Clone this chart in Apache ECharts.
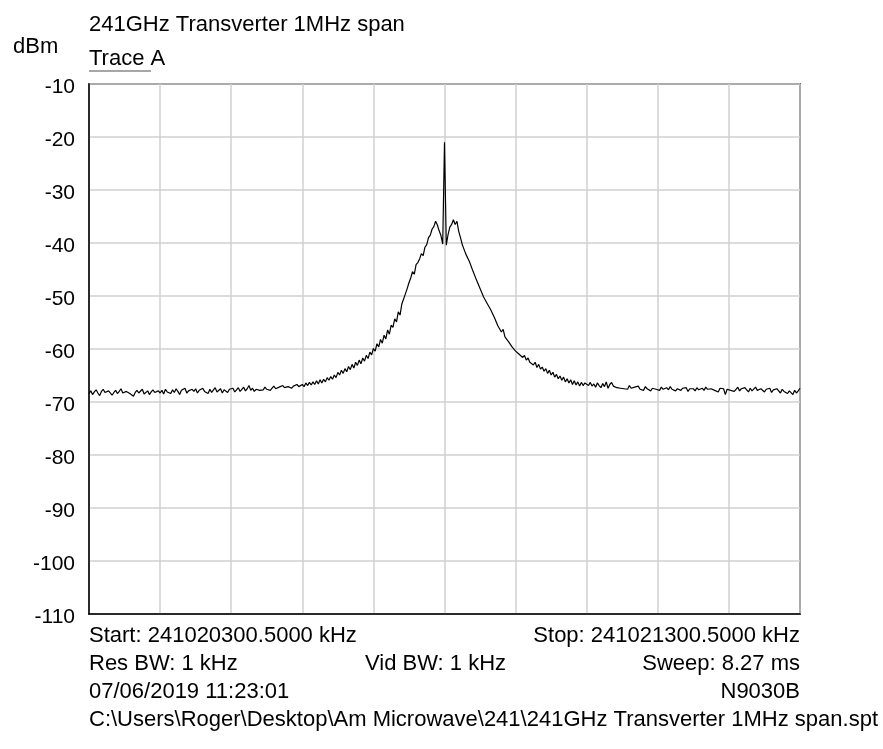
<!DOCTYPE html>
<html>
<head>
<meta charset="utf-8">
<script src="https://cdn.jsdelivr.net/npm/echarts@6/dist/echarts.min.js"></script>
<style>
html,body{margin:0;padding:0;background:#fff;}
#chart{width:883px;height:749px;}
</style>
</head>
<body>
<div id="chart"></div>
<script>
// Frequency offset from start (kHz), one sweep point every 2.5 kHz over a 1 MHz span
var sweepStepKHz = 2.5;
var spanKHz = 1000;
// Trace A level (dBm)
var traceA = [
-68.4,-67.9,-68.6,-68.1,-67.7,-68.3,-68.8,-68.0,-67.6,-68.2,-68.5,-67.9,-68.1,-68.7,-68.2,-67.8,-68.4,-68.0,-67.5,-68.3,
-68.6,-68.0,-67.7,-68.4,-68.1,-68.9,-68.2,-67.8,-68.3,-68.0,-67.6,-68.5,-68.2,-67.9,-68.6,-68.1,-67.7,-68.2,-68.4,-67.9,
-68.3,-67.8,-68.5,-67.6,-68.1,-67.9,-68.4,-67.7,-68.2,-67.5,-68.0,-68.6,-67.8,-68.1,-67.4,-68.3,-67.9,-68.2,-67.6,-68.0,
-67.5,-68.3,-67.8,-68.1,-67.4,-68.0,-67.7,-68.4,-67.6,-68.2,-67.9,-67.3,-68.1,-67.8,-67.5,-68.3,-67.7,-67.9,-68.2,-67.6,
-67.9,-67.4,-68.1,-67.7,-67.3,-68.0,-67.6,-67.2,-67.9,-67.5,-66.9,-67.8,-67.4,-68.0,-67.6,-67.3,-67.8,-67.5,-67.7,-67.2,
-67.6,-67.3,-67.8,-67.4,-67.0,-67.5,-67.7,-67.2,-67.4,-66.9,-67.3,-67.6,-67.1,-66.8,-67.4,-67.0,-67.2,-66.7,-67.1,-66.9,
-66.7,-67.1,-66.4,-66.9,-66.3,-66.8,-66.2,-66.7,-66.0,-66.6,-65.8,-66.4,-65.7,-66.2,-65.4,-65.9,-65.2,-65.7,-64.9,-65.4,
-64.4,-64.9,-64.0,-64.6,-63.7,-64.3,-63.3,-63.9,-62.9,-63.6,-62.5,-63.1,-62.1,-62.8,-61.7,-62.3,-61.2,-61.8,-60.6,-61.1,
-59.9,-60.4,-59.0,-59.6,-58.2,-58.9,-57.4,-58.1,-56.4,-57.2,-55.5,-55.9,-54.3,-54.9,-53.0,-53.6,-51.5,-51.2,-49.6,-48.6,
-47.5,-46.6,-45.4,-45.9,-44.1,-43.7,-43.0,-42.0,-42.4,-40.8,-40.3,-39.0,-38.5,-37.4,-36.9,-35.9,-36.6,-37.7,-38.6,-40.2,
-21.0,-40.4,-38.4,-37.0,-36.5,-35.6,-36.5,-35.9,-37.8,-39.0,-40.3,-40.6,-42.1,-42.2,-43.5,-43.6,-45.3,-45.2,-47.0,-47.1,
-48.6,-48.6,-50.2,-50.0,-51.4,-51.3,-52.6,-52.6,-54.0,-53.9,-55.6,-55.3,-56.8,-56.3,-57.7,-57.4,-58.6,-58.5,-59.6,-59.5,
-60.4,-60.1,-61.0,-60.7,-61.6,-61.2,-62.1,-61.7,-62.5,-62.2,-63.0,-62.5,-63.5,-62.9,-63.8,-63.4,-64.2,-63.7,-64.6,-64.0,
-64.9,-64.4,-65.3,-64.8,-65.6,-65.1,-65.9,-65.3,-66.2,-65.6,-66.4,-65.8,-66.7,-66.0,-66.8,-66.2,-67.0,-66.3,-66.9,-66.4,
-66.5,-66.9,-66.3,-67.0,-66.6,-67.2,-66.4,-66.9,-67.3,-66.5,-67.1,-66.2,-67.4,-66.7,-66.3,-67.0,-66.8,-67.3,-67.0,-67.4,
-67.1,-67.5,-67.2,-67.6,-66.9,-67.4,-67.7,-67.2,-67.5,-67.0,-67.6,-67.3,-67.8,-67.1,-67.5,-67.3,-67.9,-67.4,-67.2,-67.6,
-67.4,-67.8,-67.2,-67.6,-67.9,-67.3,-67.7,-67.1,-67.6,-67.4,-67.9,-67.5,-67.2,-67.8,-67.4,-67.7,-67.3,-68.0,-67.5,-67.6,
-67.5,-67.9,-67.3,-67.7,-68.0,-67.4,-67.8,-67.2,-67.6,-67.9,-67.5,-67.3,-67.8,-67.6,-68.1,-67.4,-67.7,-67.5,-68.6,-67.6,
-67.3,-67.8,-67.5,-68.0,-67.6,-67.2,-67.9,-67.5,-67.8,-67.3,-67.7,-68.1,-67.4,-67.9,-67.6,-67.2,-67.8,-68.0,-67.5,-67.7,
-68.1,-67.6,-67.9,-67.4,-68.2,-67.7,-68.0,-67.5,-67.9,-68.3,-67.6,-68.0,-67.8,-68.4,-67.9,-68.2,-68.6,-67.8,-68.3,-67.9,
-67.4
];
// Y axis ticks (dBm)
var yMin = -110, yMax = -10, yStep = 10;
// Text
var titleText = '241GHz Transverter 1MHz span';
var unitText = 'dBm';
var traceName = 'Trace A';
var startText = 'Start: 241020300.5000 kHz';
var stopText = 'Stop: 241021300.5000 kHz';
var resBwText = 'Res BW: 1 kHz';
var vidBwText = 'Vid BW: 1 kHz';
var sweepText = 'Sweep: 8.27 ms';
var dateText = '07/06/2019 11:23:01';
var modelText = 'N9030B';
var fileText = 'C:\\Users\\Roger\\Desktop\\Am Microwave\\241\\241GHz Transverter 1MHz span.spt';

var traceData = traceA.map(function (v, i) { return [i * sweepStepKHz, v]; });

var FONT = '22px "Liberation Sans", Arial, sans-serif';
function txt(s, x, y, align) {
  return { type: 'text', x: x, y: y, silent: true,
    style: { text: s, x: 0, y: 0, font: FONT, fill: '#000', textAlign: align || 'left', textVerticalAlign: 'middle', align: align || 'left', verticalAlign: 'middle' } };
}

var chart = echarts.init(document.getElementById('chart'), null, { renderer: 'canvas' });
chart.setOption({
  animation: false,
  backgroundColor: '#fff',
  grid: { left: 89, right: 83, top: 84, bottom: 135, show: true, borderColor: '#000', borderWidth: 1.5, backgroundColor: 'transparent' },
  xAxis: {
    type: 'value', min: 0, max: spanKHz, interval: 100,
    axisLine: { show: true, lineStyle: { color: '#000', width: 1.5 } },
    axisTick: { show: false }, axisLabel: { show: false },
    splitLine: { show: true, lineStyle: { color: '#d0d0d0', width: 1.5 } }
  },
  yAxis: {
    type: 'value', min: yMin, max: yMax, interval: yStep,
    axisLine: { show: true, lineStyle: { color: '#000', width: 1.5 } },
    axisTick: { show: false },
    axisLabel: {
      color: '#000', fontSize: 21, fontFamily: '"Liberation Sans", Arial, sans-serif', margin: 14,
      formatter: '{v|{value}}',
      rich: { v: { color: '#000', fontSize: 21, fontFamily: '"Liberation Sans", Arial, sans-serif', padding: [6, 0, 0, 0] } }
    },
    splitLine: { show: true, lineStyle: { color: '#d0d0d0', width: 1.5 } }
  },
  series: [{
    type: 'line', name: traceName, data: traceData, showSymbol: false, symbol: 'none',
    lineStyle: { color: '#000', width: 1.2 }, clip: true, z: 5
  }],
  graphic: [
    txt(titleText, 89, 25),
    txt(unitText, 13, 47),
    txt(traceName, 89, 59),
    { type: 'line', silent: true, shape: { x1: 89, y1: 71, x2: 151, y2: 71 }, style: { stroke: '#888', lineWidth: 1.5 } },
    txt(startText, 89, 636),
    txt(stopText, 800, 636, 'right'),
    txt(resBwText, 89, 664),
    txt(vidBwText, 365, 664),
    txt(sweepText, 800, 664, 'right'),
    txt(dateText, 89, 692),
    txt(modelText, 800, 692, 'right'),
    txt(fileText, 89, 720)
  ]
});
</script>
</body>
</html>
